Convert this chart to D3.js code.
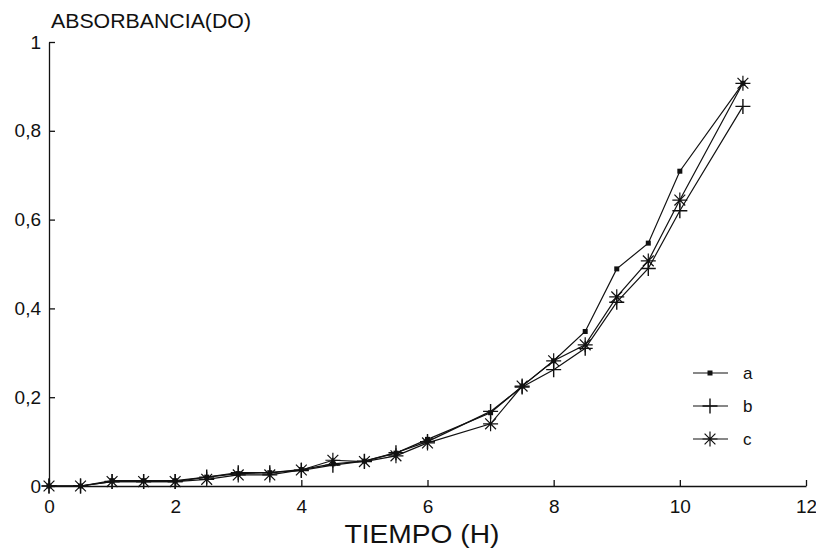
<!DOCTYPE html>
<html>
<head>
<meta charset="utf-8">
<script src="https://cdn.jsdelivr.net/npm/d3@7"></script>
<style>
  html, body { margin: 0; padding: 0; background: #fff; }
  svg { display: block; }
  text { font-family: "Liberation Sans", Arial, Helvetica, sans-serif; fill: #111; }
</style>
</head>
<body>
<svg id="chart" width="816" height="549"></svg>
<script>
// ---- data ----
const hours = [0, 0.5, 1, 1.5, 2, 2.5, 3, 3.5, 4, 4.5, 5, 5.5, 6, 7, 7.5, 8, 8.5, 9, 9.5, 10, 11];
const seriesA = [0, 0, 0.012, 0.012, 0.012, 0.02, 0.028, 0.03, 0.037, 0.05, 0.056, 0.074, 0.105, 0.165, 0.225, 0.282, 0.348, 0.489, 0.547, 0.709, 0.907];
const seriesB = [0, 0, 0.01, 0.01, 0.01, 0.02, 0.03, 0.03, 0.035, 0.047, 0.056, 0.075, 0.1, 0.168, 0.223, 0.262, 0.31, 0.414, 0.49, 0.62, 0.855];
const seriesC = [0, 0, 0.01, 0.01, 0.01, 0.015, 0.025, 0.025, 0.036, 0.058, 0.055, 0.068, 0.097, 0.14, 0.225, 0.282, 0.318, 0.426, 0.507, 0.644, 0.907];
const seriesNames = ["a", "b", "c"];
const xTickValues = [0, 2, 4, 6, 8, 10, 12];
const xTickLabels = ["0", "2", "4", "6", "8", "10", "12"];
const yTickValues = [0, 0.2, 0.4, 0.6, 0.8, 1];
const yTickLabels = ["0", "0,2", "0,4", "0,6", "0,8", "1"];
const yTitle = "ABSORBANCIA(DO)";
const xTitle = "TIEMPO (H)";

// ---- layout ----
const svg = d3.select("#chart");
const x = d3.scaleLinear().domain([0, 12]).range([49, 806]);
const y = d3.scaleLinear().domain([0, 1]).range([486, 42]);
const ink = "#111";

// axes
const xAxis = d3.axisBottom(x).tickValues(xTickValues)
  .tickFormat((d, i) => xTickLabels[i]).tickSizeInner(-6).tickSizeOuter(0).tickPadding(14);
const gx = svg.append("g").attr("transform", `translate(0,${y(0)})`).call(xAxis);
gx.select(".domain").attr("stroke", ink).attr("stroke-width", 1.3);
gx.selectAll(".tick line").attr("stroke", ink).attr("stroke-width", 1.3);
gx.selectAll(".tick text").attr("font-size", 19).attr("fill", ink)
  .attr("font-family", "'Liberation Sans', Arial, sans-serif");

const yAxis = d3.axisLeft(y).tickValues(yTickValues)
  .tickFormat((d, i) => yTickLabels[i]).tickSizeInner(-6).tickSizeOuter(0).tickPadding(8);
const gy = svg.append("g").attr("transform", `translate(${x(0)},0)`).call(yAxis);
gy.select(".domain").attr("stroke", ink).attr("stroke-width", 1.3);
gy.selectAll(".tick line").attr("stroke", ink).attr("stroke-width", 1.3);
gy.selectAll(".tick text").attr("font-size", 19).attr("fill", ink)
  .attr("font-family", "'Liberation Sans', Arial, sans-serif");

// titles
svg.append("text").attr("x", x(0) + 2).attr("y", 28).attr("font-size", 19.5)
  .attr("textLength", 200).attr("lengthAdjust", "spacingAndGlyphs").text(yTitle);
svg.append("text").attr("x", 422).attr("y", 543).attr("text-anchor", "middle")
  .attr("font-size", 25).attr("textLength", 155).attr("lengthAdjust", "spacingAndGlyphs").text(xTitle);

// ---- series ----
const allSeries = [seriesA, seriesB, seriesC];
const line = d3.line().x((d, i) => x(hours[i])).y(d => y(d));
const plot = svg.append("g");

allSeries.forEach(s => {
  plot.append("path").datum(s).attr("d", line)
    .attr("fill", "none").attr("stroke", ink).attr("stroke-width", 1.2);
});

function drawMarker(g, type, cx, cy) {
  if (type === "a") {
    g.append("rect").attr("x", cx - 2.5).attr("y", cy - 2.5).attr("width", 5).attr("height", 5).attr("fill", ink);
  } else if (type === "b") {
    const r = 7.5;
    g.append("path").attr("d", `M${cx - r},${cy}H${cx + r}M${cx},${cy - r}V${cy + r}`)
      .attr("stroke", ink).attr("stroke-width", 1.4).attr("fill", "none");
  } else {
    const r = 7.5, d = r * 0.72;
    g.append("path").attr("d", `M${cx - r},${cy}H${cx + r}M${cx},${cy - r}V${cy + r}M${cx - d},${cy - d}L${cx + d},${cy + d}M${cx - d},${cy + d}L${cx + d},${cy - d}`)
      .attr("stroke", ink).attr("stroke-width", 1.2).attr("fill", "none");
  }
}

allSeries.forEach((s, k) => {
  s.forEach((v, i) => drawMarker(plot, seriesNames[k], x(hours[i]), y(v)));
});

// ---- legend ----
const legend = svg.append("g");
const legendY = [373, 406, 439];
seriesNames.forEach((name, k) => {
  const ly = legendY[k];
  legend.append("line").attr("x1", 693).attr("x2", 728).attr("y1", ly).attr("y2", ly)
    .attr("stroke", ink).attr("stroke-width", 1.2);
  drawMarker(legend, name, 710, ly);
  legend.append("text").attr("x", 743).attr("y", ly + 6).attr("font-size", 17).text(name);
});
</script>
</body>
</html>
